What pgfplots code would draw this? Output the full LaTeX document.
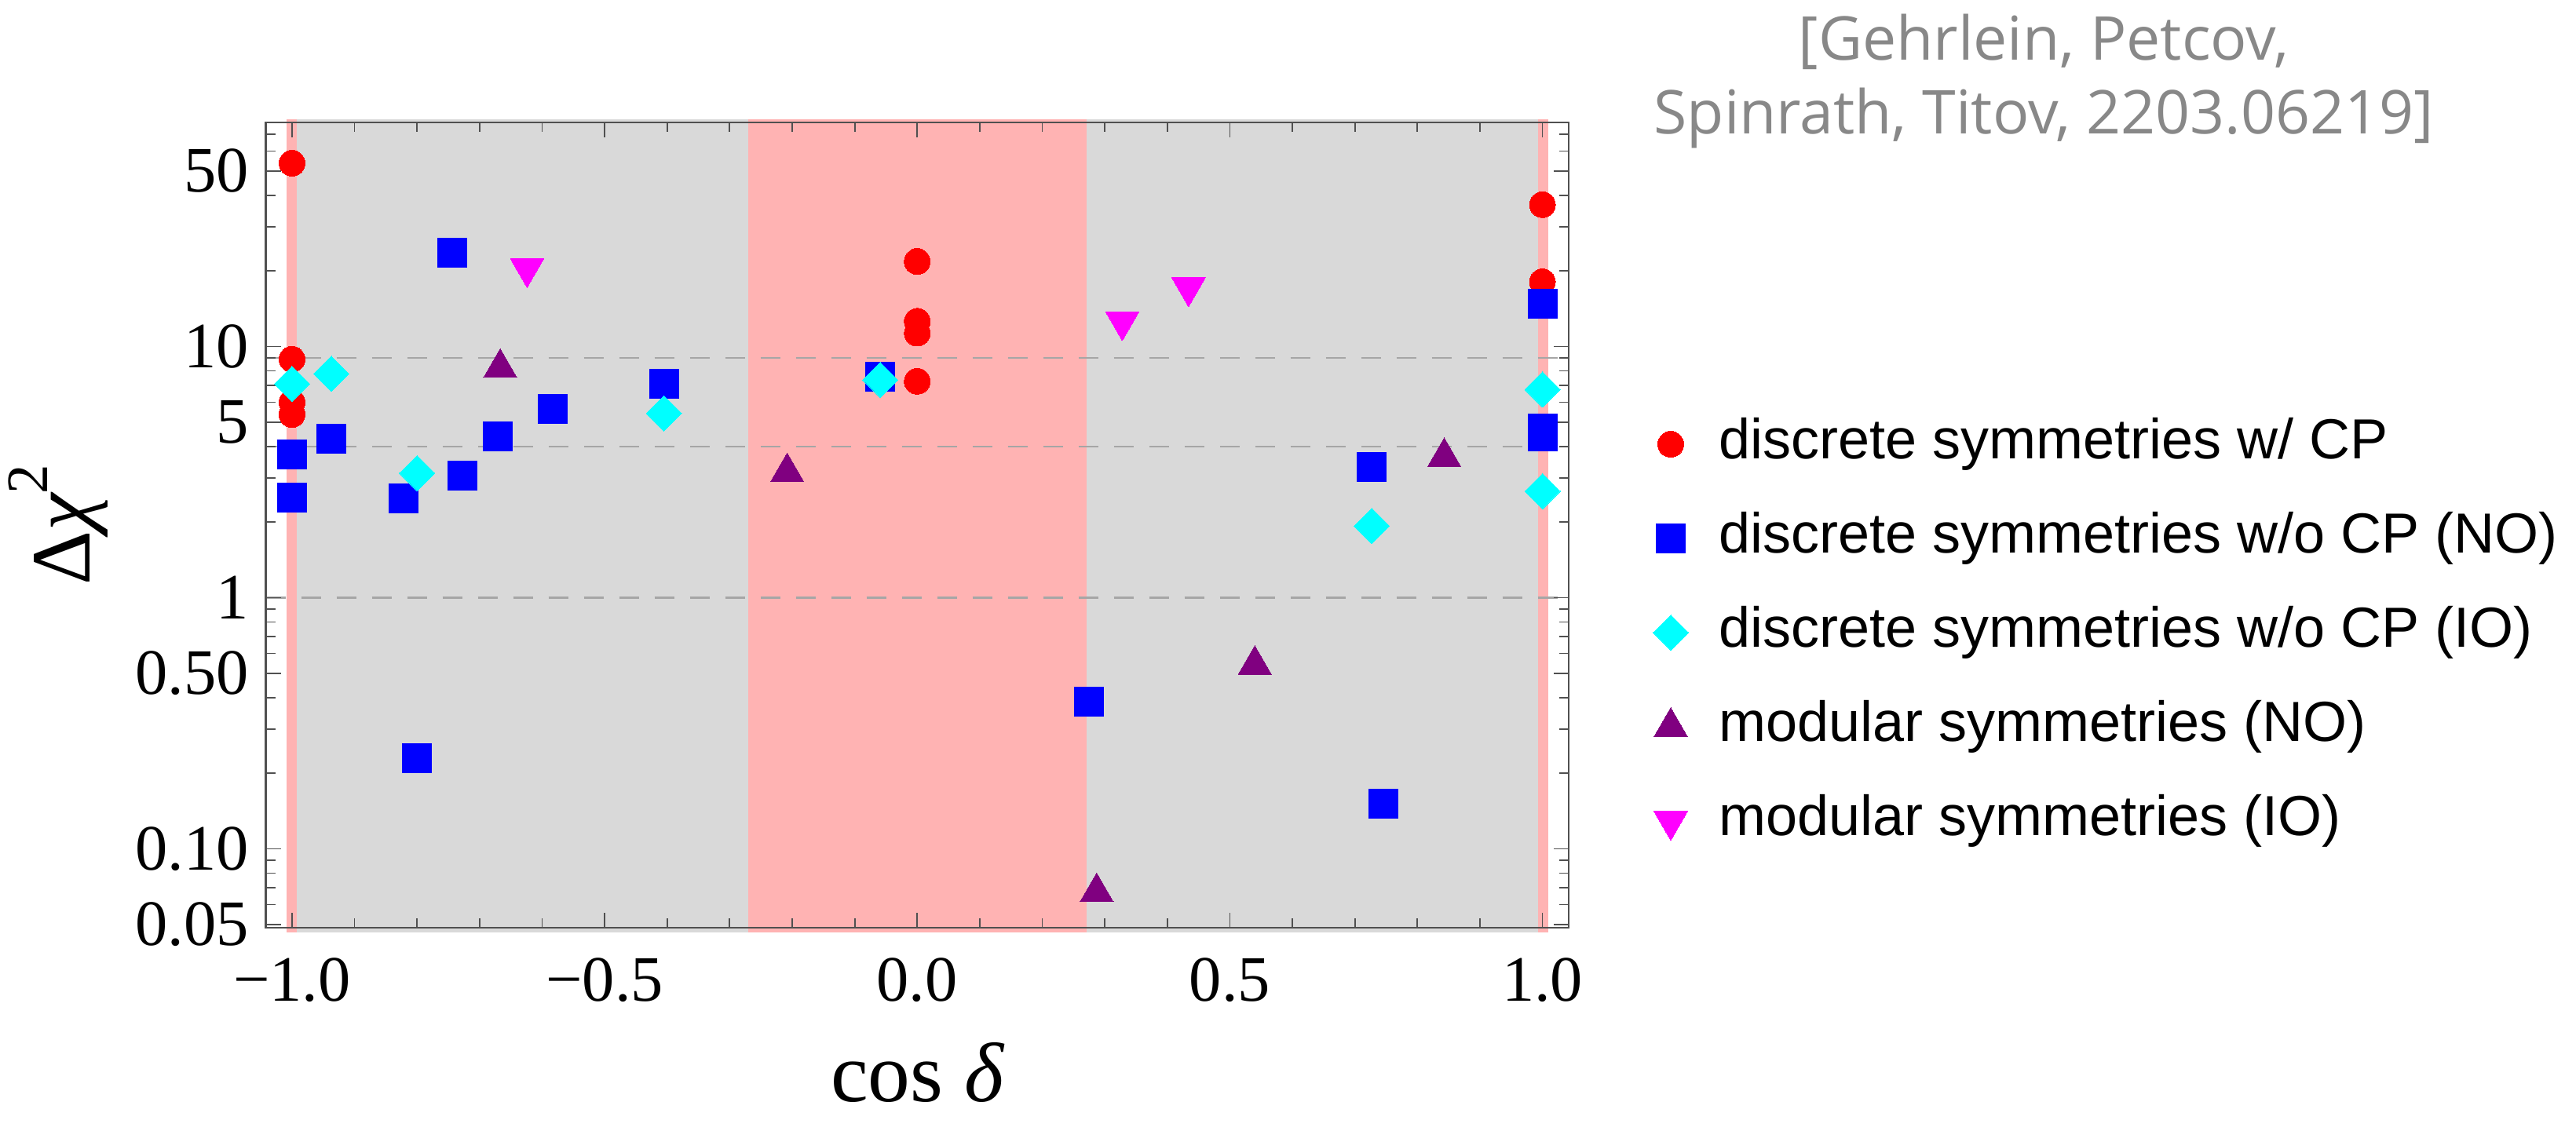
\documentclass[border=0pt]{standalone}
\usepackage{fontspec}
\setmainfont{Liberation Serif}
\newfontfamily\legfont{Liberation Sans}
\newfontfamily\notefont{Open Sans}
\usepackage{pgfplots}
\pgfplotsset{compat=1.18}
\definecolor{shpink}{HTML}{FFB3B3}
\definecolor{shgrey}{HTML}{D9D9D9}
\definecolor{dashgrey}{HTML}{A6A6A6}
\definecolor{framec}{HTML}{505050}
\definecolor{cpred}{HTML}{FF0000}
\definecolor{noblue}{HTML}{0000FF}
\definecolor{iocyan}{HTML}{00FFFF}
\definecolor{modpurple}{HTML}{800080}
\definecolor{modmag}{HTML}{FF00FF}
\definecolor{notegrey}{HTML}{888888}
\begin{document}
\begin{tikzpicture}
\path[use as bounding box] (0,0) rectangle (656.2pt,288.2pt);
\begin{axis}[
  at={(67.7pt,51.8pt)}, anchor=south west,
  width=331.9pt, height=205.2pt, scale only axis,
  xmin=-1.042, xmax=1.042,
  ymode=log, ymin=0.0485, ymax=78,
  axis on top, clip=false,
  xtick={-1,-0.5,0,0.5,1},
  xticklabels={−1.0,−0.5,0.0,0.5,1.0},
  minor x tick num=4,
  ytick={0.05,0.1,0.5,1,5,10,50},
  yticklabels={0.05,0.10,0.50,1,5,10,50},
  minor ytick={0.06,0.07,0.08,0.09,0.2,0.3,0.4,0.6,0.7,0.8,0.9,2,3,4,6,7,8,9,20,30,40,60,70},
  tick align=inside,
  major tick length=3.9pt,
  minor tick length=2.4pt,
  axis line style={framec, line width=0.5pt},
  tick style={framec, line width=0.35pt},
  tick label style={font=\fontsize{16.5}{16.5}\selectfont, inner sep=0pt},
  xticklabel shift=7.6pt,
  yticklabel shift=4.1pt,
  xlabel={cos {\itshape δ}},
  ylabel={Δ{\itshape χ}\raisebox{0.5em}{\fontsize{15}{15}\selectfont 2}},
  label style={font=\fontsize{21.5}{21.5}\selectfont},
  xlabel style={at={(axis description cs:0.5,-0.216)}, anchor=base},
  ylabel style={at={(axis description cs:-0.1594,0.5)}, anchor=center},
  legend style={at={(axis description cs:1.0642,0.6340)}, anchor=north west,
    draw=none, fill=none, inner xsep=0pt, inner ysep=0pt,
    font=\legfont\fontsize{14.4}{14.4}\selectfont,
    nodes={inner sep=0pt, text height=10.4pt, text depth=3pt},
    row sep=10.6pt, column sep=7.8pt},
  legend cell align=left,
  legend image code/.code={\draw[#1] plot coordinates {(0pt,0pt)};},
]
% shaded bands
\fill[shgrey] (axis cs:-0.9925,0.0466) rectangle (axis cs:0.9934,80.5);
\fill[shpink] (axis cs:-1.0088,0.0466) rectangle (axis cs:-0.9925,80.5);
\fill[shpink] (axis cs:-0.2700,0.0466) rectangle (axis cs:0.2714,80.5);
\fill[shpink] (axis cs:0.9934,0.0466) rectangle (axis cs:1.0088,80.5);
% reference lines
\addplot[forget plot, dashgrey, line width=0.47pt, dash pattern=on 5pt off 4pt] coordinates {(-1.042,1) (1.042,1)};
\addplot[forget plot, dashgrey, line width=0.47pt, dash pattern=on 5pt off 4pt] coordinates {(-1.042,4) (1.042,4)};
\addplot[forget plot, dashgrey, line width=0.47pt, dash pattern=on 5pt off 4pt] coordinates {(-1.042,9) (1.042,9)};
% data
\addplot[only marks, mark=*, mark size=3.3pt, color=cpred, mark options={line width=0pt}] coordinates {
(-1,53.7) (-1,8.9) (-1,6.0) (-1,5.36) (0,21.8) (0,12.6) (0,11.3) (0,7.27) (1,36.7) (1,18.1)};
\addlegendentry{discrete symmetries w/ CP}
\addplot[only marks, mark=square*, mark size=3.7pt, color=noblue, mark options={line width=0pt}] coordinates {
(-1,3.73) (-1,2.50) (-0.937,4.30) (-0.821,2.49) (-0.800,0.230) (-0.744,23.6) (-0.728,3.07) (-0.671,4.40) (-0.583,5.66) (-0.405,7.08) (-0.059,7.59) (0.275,0.386) (0.727,3.32) (0.745,0.151) (1,14.8) (1,4.72) (1,4.38)};
\addlegendentry{discrete symmetries w/o CP (NO)}
\addplot[only marks, mark=square*, mark size=3.18pt, color=iocyan, mark options={line width=0pt, rotate=45}] coordinates {
(-1,7.1) (-0.937,7.78) (-0.800,3.13) (-0.405,5.42) (-0.059,7.36) (0.727,1.93) (1,6.74) (1,2.65)};
\addlegendentry{discrete symmetries w/o CP (IO)}
\addplot[only marks, mark=triangle*, mark size=4.9pt, color=modpurple, mark options={line width=0pt}] coordinates {
(-0.667,8.22) (-0.208,3.16) (0.287,0.0672) (0.540,0.540) (0.843,3.63)};
\addlegendentry{modular symmetries (NO)}
\addplot[only marks, mark=triangle*, mark size=4.9pt, color=modmag, mark options={line width=0pt, rotate=180}] coordinates {
(-0.624,20.5) (0.328,12.6) (0.434,17.2)};
\addlegendentry{modular symmetries (IO)}
\end{axis}
\node[anchor=base, text=notegrey, font=\notefont\fontsize{15.4}{15.4}\selectfont, inner sep=0pt] at (520.6pt,272.9pt) {[Gehrlein, Petcov,};
\node[anchor=base, text=notegrey, font=\notefont\fontsize{15.4}{15.4}\selectfont, inner sep=0pt] at (520.6pt,254.1pt) {Spinrath, Titov, 2203.06219]};
\end{tikzpicture}
\end{document}
